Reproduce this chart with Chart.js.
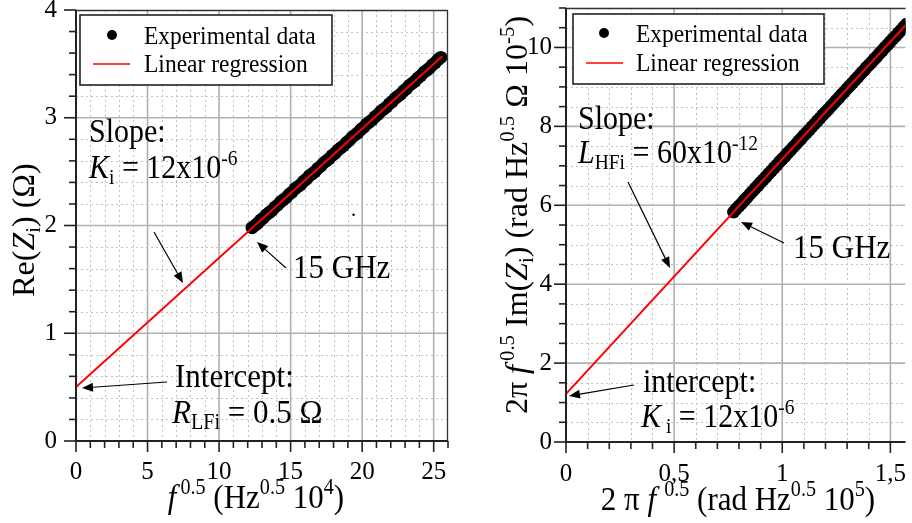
<!DOCTYPE html>
<html><head><meta charset="utf-8">
<script src="https://cdn.jsdelivr.net/npm/chart.js@4"></script>
<style>
html,body{margin:0;padding:0;background:#fff;width:912px;height:523px;overflow:hidden}
#wrapL{position:absolute;left:0;top:0;width:456px;height:523px}
#wrapR{position:absolute;left:456px;top:0;width:456px;height:523px}
</style></head><body>
<div id="wrapL"><canvas id="cL" width="456" height="523"></canvas></div>
<div id="wrapR"><canvas id="cR" width="456" height="523"></canvas></div>
<script>
// ---------- DATA ----------
const legendLabels = ['Experimental data', 'Linear regression'];

// Left panel: Re(Zi) vs f^0.5
const leftExpX = [12.3,12.5,12.7,12.9,13.1,13.3,13.5,13.7,13.9,14.1,14.3,14.5,14.7,14.9,15.1,15.3,15.5,15.7,15.9,16.1,16.3,16.5,16.7,16.9,17.1,17.3,17.5,17.7,17.9,18.1,18.3,18.5,18.7,18.9,19.1,19.3,19.5,19.7,19.9,20.1,20.3,20.5,20.7,20.9,21.1,21.3,21.5,21.7,21.9,22.1,22.3,22.5,22.7,22.9,23.1,23.3,23.5,23.7,23.9,24.1,24.3,24.5,24.7,24.9,25.1,25.3,25.5];
const leftExpY = [1.98,2.00,2.02,2.05,2.07,2.10,2.12,2.14,2.17,2.19,2.22,2.24,2.26,2.29,2.31,2.34,2.36,2.38,2.41,2.43,2.46,2.48,2.50,2.53,2.55,2.58,2.60,2.62,2.65,2.67,2.70,2.72,2.74,2.77,2.79,2.82,2.84,2.86,2.89,2.91,2.94,2.96,2.98,3.01,3.03,3.06,3.08,3.10,3.13,3.15,3.18,3.20,3.22,3.25,3.27,3.30,3.32,3.34,3.37,3.39,3.42,3.44,3.46,3.49,3.51,3.54,3.56];
const leftRegX = [0, 25.6];
const leftRegY = [0.5, 3.57];
const leftStrayX = [19.4];
const leftStrayY = [2.10];
const leftXTicks = [0, 5, 10, 15, 20, 25];
const leftXTickLabels = ['0', '5', '10', '15', '20', '25'];
const leftYTicks = [0, 1, 2, 3, 4];
const leftYTickLabels = ['0', '1', '2', '3', '4'];

// Right panel: 2*pi*f^0.5*Im(Zi) vs 2*pi*f^0.5
const rightExpX = [0.775,0.7875,0.8,0.8125,0.825,0.8375,0.85,0.8625,0.875,0.8875,0.9,0.9125,0.925,0.9375,0.95,0.9625,0.975,0.9875,1.0,1.0125,1.025,1.0375,1.05,1.0625,1.075,1.0875,1.1,1.1125,1.125,1.1375,1.15,1.1625,1.175,1.1875,1.2,1.2125,1.225,1.2375,1.25,1.2625,1.275,1.2875,1.3,1.3125,1.325,1.3375,1.35,1.3625,1.375,1.3875,1.4,1.4125,1.425,1.4375,1.45,1.4625,1.475,1.4875,1.5,1.5125,1.525,1.5375,1.55,1.5625,1.575,1.5875,1.6];
const rightExpY = [5.83,5.91,5.98,6.05,6.13,6.20,6.28,6.35,6.43,6.50,6.58,6.65,6.72,6.80,6.87,6.95,7.02,7.10,7.17,7.24,7.32,7.39,7.47,7.54,7.62,7.69,7.77,7.84,7.91,7.99,8.06,8.14,8.21,8.29,8.36,8.43,8.51,8.58,8.66,8.73,8.81,8.88,8.96,9.03,9.10,9.18,9.25,9.33,9.40,9.48,9.55,9.62,9.70,9.77,9.85,9.92,10.00,10.07,10.15,10.22,10.29,10.37,10.44,10.52,10.59,10.67,10.74];
const rightRegX = [0, 1.6];
const rightRegY = [1.22, 10.74];
const rightXTicks = [0, 0.5, 1, 1.5];
const rightXTickLabels = ['0', '0,5', '1', '1,5'];
const rightYTicks = [0, 2, 4, 6, 8, 10];
const rightYTickLabels = ['0', '2', '4', '6', '8', '10'];

// ---------- helpers ----------
const FONT = '"Liberation Serif", "Times New Roman", serif';
function setFont(ctx, size, italic) { ctx.font = (italic ? 'italic ' : '') + size + 'px ' + FONT; }
function majorIndex(v, list) { return list.findIndex(m => Math.abs(m - v) < 1e-6); }
function pts(xs, ys) { return xs.map((x, i) => ({x: x, y: ys[i]})); }

// segs: [text, style, extraGapAfter]
function drawRich(ctx, segs, x, y, size, align, rot, sy) {
  ctx.save();
  ctx.translate(x, y);
  if (sy) ctx.scale(1, sy);
  if (rot) ctx.rotate(rot);
  const parts = []; let w = 0;
  for (const s of segs) {
    const t = s[0], st = s[1] || 'n', gap = s[2] || 0;
    const it = st.startsWith('i');
    const sm = st.endsWith('sub') || st.endsWith('sup');
    const sz = sm ? size * 0.65 : size;
    setFont(ctx, sz, it);
    const mw = ctx.measureText(t).width;
    parts.push({t, it, sz, dy: st.endsWith('sup') ? -0.40 * size : (st.endsWith('sub') ? 0.18 * size : 0), x: w});
    w += mw + gap;
  }
  const x0 = align === 'center' ? -w / 2 : 0;
  ctx.fillStyle = '#000'; ctx.textBaseline = 'alphabetic'; ctx.textAlign = 'left';
  for (const p of parts) { setFont(ctx, p.sz, p.it); ctx.fillText(p.t, x0 + p.x, p.dy); }
  ctx.restore();
}

function arrow(ctx, x1, y1, x2, y2) {
  ctx.save();
  ctx.strokeStyle = '#000'; ctx.fillStyle = '#000'; ctx.lineWidth = 1.2;
  const ang = Math.atan2(y2 - y1, x2 - x1);
  const L = 11, H = 4.5;
  const bx = x2 - L * Math.cos(ang), by = y2 - L * Math.sin(ang);
  ctx.beginPath(); ctx.moveTo(x1, y1); ctx.lineTo(bx, by); ctx.stroke();
  ctx.beginPath();
  ctx.moveTo(x2, y2);
  ctx.lineTo(bx + H * Math.sin(ang), by - H * Math.cos(ang));
  ctx.lineTo(bx - H * Math.sin(ang), by + H * Math.cos(ang));
  ctx.closePath(); ctx.fill();
  ctx.restore();
}

function makeDeco(o) {
  return {
    id: 'deco',
    beforeDatasetsDraw(chart) {
      const {ctx, chartArea: a, scales: {x, y}} = chart;
      ctx.save();
      ctx.beginPath(); ctx.rect(a.left, a.top, a.right - a.left, a.bottom - a.top); ctx.clip();
      ctx.strokeStyle = '#c2c2c2'; ctx.lineWidth = 1; ctx.setLineDash([2, 3]);
      for (const t of x.ticks) {
        if (majorIndex(t.value, o.xMaj) >= 0) continue;
        const p = Math.round(x.getPixelForValue(t.value)) + 0.5;
        ctx.beginPath(); ctx.moveTo(p, a.top); ctx.lineTo(p, a.bottom); ctx.stroke();
      }
      for (const t of y.ticks) {
        if (majorIndex(t.value, o.yMaj) >= 0) continue;
        const p = Math.round(y.getPixelForValue(t.value)) + 0.5;
        ctx.beginPath(); ctx.moveTo(a.left, p); ctx.lineTo(a.right, p); ctx.stroke();
      }
      ctx.setLineDash([]); ctx.strokeStyle = '#b0b0b0'; ctx.lineWidth = 1.6;
      for (const t of x.ticks) {
        if (majorIndex(t.value, o.xMaj) < 0) continue;
        const p = x.getPixelForValue(t.value);
        ctx.beginPath(); ctx.moveTo(p, a.top); ctx.lineTo(p, a.bottom); ctx.stroke();
      }
      for (const t of y.ticks) {
        if (majorIndex(t.value, o.yMaj) < 0) continue;
        const p = y.getPixelForValue(t.value);
        ctx.beginPath(); ctx.moveTo(a.left, p); ctx.lineTo(a.right, p); ctx.stroke();
      }
      ctx.restore();
    },
    afterDatasetsDraw(chart) {
      const {ctx, chartArea: a, scales: {x, y}} = chart;
      ctx.save();
      ctx.strokeStyle = '#333'; ctx.lineWidth = 1.3;
      ctx.beginPath(); ctx.moveTo(a.left, a.top + 0.5); ctx.lineTo(a.right, a.top + 0.5); ctx.stroke();
      if (o.rightBorder) { ctx.beginPath(); ctx.moveTo(a.right - 0.5, a.top); ctx.lineTo(a.right - 0.5, a.bottom); ctx.stroke(); }
      ctx.strokeStyle = '#222'; ctx.lineWidth = 2;
      ctx.beginPath(); ctx.moveTo(a.left, a.top); ctx.lineTo(a.left, a.bottom); ctx.lineTo(a.right, a.bottom); ctx.stroke();
      ctx.lineWidth = 1.6;
      for (const t of x.ticks) {
        const p = x.getPixelForValue(t.value);
        const len = majorIndex(t.value, o.xMaj) >= 0 ? 11 : 7;
        ctx.beginPath(); ctx.moveTo(p, a.bottom); ctx.lineTo(p, a.bottom + len); ctx.stroke();
      }
      for (const t of y.ticks) {
        const p = y.getPixelForValue(t.value);
        const len = majorIndex(t.value, o.yMaj) >= 0 ? 12 : 7;
        ctx.beginPath(); ctx.moveTo(a.left, p); ctx.lineTo(a.left - len, p); ctx.stroke();
      }
      // legend
      const L = o.legend;
      ctx.fillStyle = '#fff'; ctx.fillRect(L.x, L.y, L.w, L.h);
      ctx.strokeStyle = '#222'; ctx.lineWidth = 1.6; ctx.strokeRect(L.x, L.y, L.w, L.h);
      ctx.fillStyle = '#000';
      ctx.beginPath(); ctx.arc(L.dotX, L.row1 - 9, 5, 0, Math.PI * 2); ctx.fill();
      ctx.strokeStyle = '#ff0000'; ctx.lineWidth = 1.5;
      ctx.beginPath(); ctx.moveTo(L.l1, L.row2 - 8); ctx.lineTo(L.l2, L.row2 - 8); ctx.stroke();
      drawRich(ctx, [[legendLabels[0]]], L.textX, L.row1, 23.5, 'left', 0, 1.1);
      drawRich(ctx, [[legendLabels[1]]], L.textX, L.row2, 23.5, 'left', 0, 1.1);
      for (const r of o.texts) drawRich(ctx, r.segs, r.x, r.y, r.size, r.align || 'left', r.rot || 0, r.rot ? 1 : 1.1);
      for (const ar of o.arrows) arrow(ctx, ar[0], ar[1], ar[2], ar[3]);
      ctx.restore();
    }
  };
}

function makeChart(id, c) {
  return new Chart(document.getElementById(id), {
    type: 'scatter',
    data: {
      datasets: [
        {label: legendLabels[1], data: pts(c.regX, c.regY), showLine: true, borderColor: '#ff0000', borderWidth: 2, pointRadius: 0, order: 0},
        {label: legendLabels[0], data: pts(c.expX, c.expY), pointRadius: 6.5, pointBackgroundColor: '#000', pointBorderWidth: 0, borderColor: '#000', order: 1},
        {label: 'stray', data: pts(c.strayX || [], c.strayY || []), pointRadius: 1.2, pointBackgroundColor: '#000', pointBorderWidth: 0, order: 2}
      ]
    },
    options: {
      responsive: false, animation: false, events: [],
      layout: {padding: {top: c.padTop, right: c.padRight, left: 0, bottom: 0}},
      plugins: {legend: {display: false}, tooltip: {enabled: false}},
      scales: {
        x: {
          type: 'linear', min: 0, max: c.xMax,
          grid: {display: false, drawTicks: false}, border: {display: false},
          ticks: {stepSize: c.xStep, autoSkip: false, maxRotation: 0, includeBounds: false, padding: c.xPad,
                  color: '#000', font: {family: FONT, size: 25},
                  callback: v => { const i = majorIndex(v, c.xMaj); return i >= 0 ? c.xLab[i] : ''; }},
          afterFit: s => { s.height = c.xHeight; s.paddingLeft = 0; s.paddingRight = 0; }
        },
        y: {
          type: 'linear', min: 0, max: c.yMax,
          grid: {display: false, drawTicks: false}, border: {display: false},
          ticks: {stepSize: c.yStep, autoSkip: false, includeBounds: false, padding: c.yPad,
                  color: '#000', font: {family: FONT, size: 25},
                  callback: v => { const i = majorIndex(v, c.yMaj); return i >= 0 ? c.yLab[i] : ''; }},
          afterFit: s => { s.width = c.yWidth; s.paddingTop = 0; s.paddingBottom = 0; }
        }
      }
    },
    plugins: [makeDeco(c)]
  });
}

makeChart('cL', {
  expX: leftExpX, expY: leftExpY, regX: leftRegX, regY: leftRegY, strayX: leftStrayX, strayY: leftStrayY,
  xMax: 26, xStep: 1, yMax: 4, yStep: 0.2,
  xMaj: leftXTicks, xLab: leftXTickLabels, yMaj: leftYTicks, yLab: leftYTickLabels,
  padTop: 10, padRight: 8, xHeight: 82, yWidth: 76, xPad: 16, yPad: 19, rightBorder: true,
  legend: {x: 80, y: 15, w: 252, h: 70, dotX: 112, l1: 93, l2: 130, textX: 144, row1: 44, row2: 72},
  texts: [
    {segs: [['Slope:']], x: 89, y: 142, size: 30},
    {segs: [['K', 'i'], ['i', 'sub'], [' = 12x10'], ['-6', 'sup']], x: 89, y: 178, size: 30},
    {segs: [['15 GHz']], x: 293, y: 278, size: 31},
    {segs: [['Intercept:']], x: 175, y: 387, size: 31},
    {segs: [['R', 'i'], ['LFi', 'sub'], [' = 0.5 Ω']], x: 172, y: 423, size: 31},
    {segs: [['f', 'i', 4], ['0.5', 'sup'], [' (Hz'], ['0.5', 'sup'], [' 10'], ['4', 'sup'], [')']], x: 256, y: 508, size: 31, align: 'center'},
    {segs: [['Re('], ['Z', 'i'], ['i', 'sub'], [') (Ω)']], x: 34, y: 230, size: 32, align: 'center', rot: -Math.PI / 2}
  ],
  arrows: [[154, 232, 183, 283], [286, 268, 257, 242], [167, 382, 82, 388]]
});

makeChart('cR', {
  expX: rightExpX, expY: rightExpY, regX: rightRegX, regY: rightRegY,
  xMax: 1.57, xStep: 0.1, yMax: 11, yStep: 0.5,
  xMaj: rightXTicks, xLab: rightXTickLabels, yMaj: rightYTicks, yLab: rightYTickLabels,
  padTop: 8, padRight: 0, xHeight: 81, yWidth: 110, xPad: 17, yPad: 14, rightBorder: false,
  legend: {x: 117, y: 14, w: 251, h: 70, dotX: 148, l1: 130, l2: 167, textX: 180, row1: 42, row2: 71},
  texts: [
    {segs: [['Slope:']], x: 122, y: 129, size: 30},
    {segs: [['L', 'i'], ['HFi', 'sub'], [' = 60x10'], ['-12', 'sup']], x: 122, y: 163, size: 30},
    {segs: [['15 GHz']], x: 337, y: 258, size: 31},
    {segs: [['intercept:']], x: 187, y: 392, size: 30},
    {segs: [['K', 'i'], [' i', 'sub'], [' = 12x10'], ['-6', 'sup']], x: 185, y: 427, size: 30},
    {segs: [['2 π '], ['f', 'i', 3], [' 0.5', 'sup'], [' (rad Hz'], ['0.5', 'sup'], [' 10'], ['5', 'sup'], [')']], x: 282, y: 510, size: 31, align: 'center'},
    {segs: [['2π '], ['f', 'i', 4], ['0.5', 'sup'], [' Im('], ['Z', 'i'], ['i', 'sub'], [') (rad Hz'], ['0.5', 'sup'], [' Ω 10'], ['-5', 'sup'], [')']], x: 71, y: 215, size: 32, align: 'center', rot: -Math.PI / 2}
  ],
  arrows: [[172, 182, 214, 268], [328, 243, 285, 222], [178, 385, 113, 396]]
});
</script>
</body></html>
